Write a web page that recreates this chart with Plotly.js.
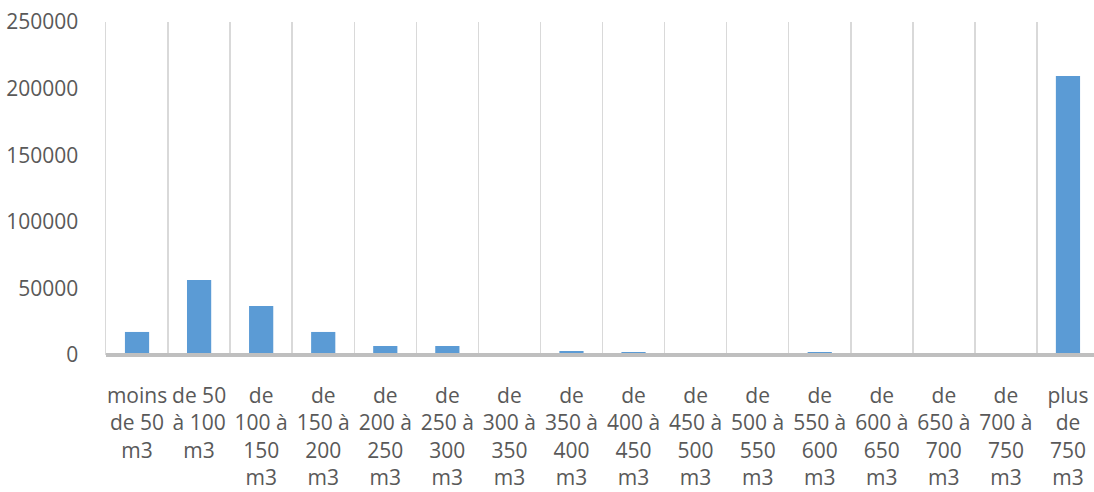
<!DOCTYPE html>
<html>
<head>
<meta charset="utf-8">
<script src="https://cdn.plot.ly/plotly-3.0.1.min.js"></script>
<style>
html,body{margin:0;padding:0;overflow:hidden;background:#fff;}
#chart{width:1099px;height:492px;}
</style>
</head>
<body>
<div id="chart"></div>
<script>
var categories = [
  "moins<br>de 50<br>m3", "de 50<br>à 100<br>m3", "de<br>100 à<br>150<br>m3", "de<br>150 à<br>200<br>m3",
  "de<br>200 à<br>250<br>m3", "de<br>250 à<br>300<br>m3", "de<br>300 à<br>350<br>m3", "de<br>350 à<br>400<br>m3",
  "de<br>400 à<br>450<br>m3", "de<br>450 à<br>500<br>m3", "de<br>500 à<br>550<br>m3", "de<br>550 à<br>600<br>m3",
  "de<br>600 à<br>650<br>m3", "de<br>650 à<br>700<br>m3", "de<br>700 à<br>750<br>m3", "plus<br>de<br>750<br>m3"
];
var values = [17300, 56300, 36800, 17300, 6750, 6750, 1000, 3000, 2250, 600, 500, 2250, 700, 500, 1200, 209500];
var yTicks = [0, 50000, 100000, 150000, 200000, 250000];

var trace = {
  type: 'bar',
  x: categories,
  y: values,
  marker: {color: '#5b9bd5'},
  hoverinfo: 'skip'
};

var layout = {
  width: 1099,
  height: 492,
  margin: {l: 106, r: 0, t: 22, b: 137, pad: 0},
  paper_bgcolor: '#ffffff',
  plot_bgcolor: '#ffffff',
  bargap: 0.61,
  showlegend: false,
  font: {family: 'Open Sans, sans-serif', color: '#595959'},
  xaxis: {
    type: 'category',
    tickson: 'boundaries',
    showgrid: true,
    gridcolor: '#d9d9d9',
    gridwidth: 1.5,
    ticks: '',
    showline: false,
    zeroline: false,
    tickangle: 0,
    tickfont: {size: 21, color: '#595959'},
    ticklabelstandoff: 26
  },
  yaxis: {
    range: [0, 250000],
    tickvals: yTicks,
    ticktext: yTicks.map(String),
    showgrid: false,
    zeroline: false,
    showline: true,
    linecolor: '#d9d9d9',
    linewidth: 1.5,
    ticks: '',
    tickfont: {size: 21, color: '#595959'},
    ticklabelstandoff: 22
  },
  shapes: [{
    type: 'line', xref: 'paper', yref: 'paper',
    x0: 0, x1: 1, y0: 0, y1: 0,
    line: {color: '#bfbfbf', width: 4},
    layer: 'above'
  }]
};

Plotly.newPlot('chart', [trace], layout, {displayModeBar: false, staticPlot: true});
</script>
</body>
</html>
